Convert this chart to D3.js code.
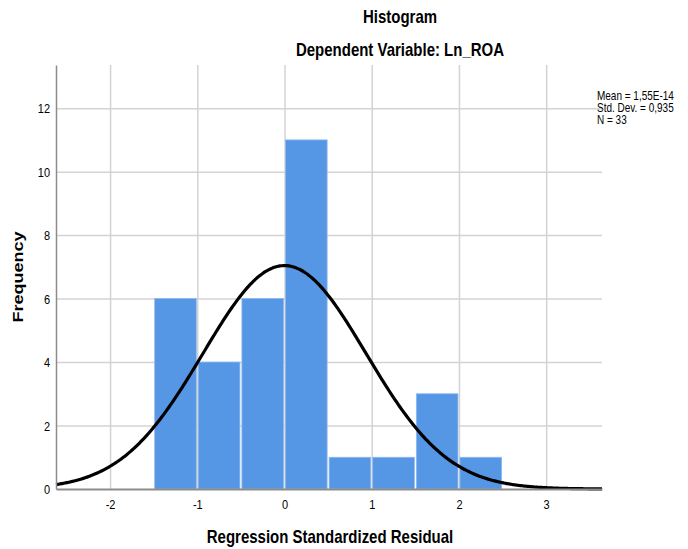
<!DOCTYPE html>
<html>
<head>
<meta charset="utf-8">
<script src="https://cdn.jsdelivr.net/npm/d3@7"></script>
<style>
  html, body { margin: 0; padding: 0; background: #fff; }
  svg { display: block; }
  text { font-family: "Liberation Sans", Arial, sans-serif; fill: #000; }
</style>
</head>
<body>
<svg id="chart" width="688" height="549"></svg>
<script>
// ---- data ----
const binStarts = [-1.5, -1.0, -0.5, 0.0, 0.5, 1.0, 1.5, 2.0];
const binCounts = [6, 4, 6, 11, 1, 1, 3, 1];
const binWidth = 0.5;
const xTicks = [-2, -1, 0, 1, 2, 3];
const yTicks = [0, 2, 4, 6, 8, 10, 12];
const statMean = 1.55e-14;
const statSD = 0.935;
const statN = 33;
const legendLines = ["Mean = 1,55E-14", "Std. Dev. = 0,935", "N = 33"];
const titleText = "Histogram";
const subtitleText = "Dependent Variable: Ln_ROA";
const xLabel = "Regression Standardized Residual";
const yLabel = "Frequency";

// ---- layout ----
const L = 56, R = 602, T = 65, B = 489;
const SY = 1.2; // vertical text stretch
const svg = d3.select("#chart");

const x = d3.scaleLinear().domain([-2.62, 3.64]).range([L, R]);
const y = d3.scaleLinear().domain([0, 13.36]).range([B, T]);

// gridlines
const grid = svg.append("g");
grid.append("g")
  .attr("transform", `translate(0,${B})`)
  .call(d3.axisBottom(x).tickValues(xTicks).tickSize(-(B - T)).tickFormat(""))
  .call(g => g.select(".domain").remove())
  .call(g => g.selectAll("line").attr("stroke", "#d3d3d3").attr("stroke-width", 1.5));
grid.append("g")
  .attr("transform", `translate(${L},0)`)
  .call(d3.axisLeft(y).tickValues(yTicks.filter(v => v > 0)).tickSize(-(R - L)).tickFormat(""))
  .call(g => g.select(".domain").remove())
  .call(g => g.selectAll("line").attr("stroke", "#d3d3d3").attr("stroke-width", 1.5));

// bars
const bars = binStarts.map((s, i) => ({ x0: s, x1: s + binWidth, n: binCounts[i] }));
svg.append("g").selectAll("rect").data(bars).join("rect")
  .attr("x", d => x(d.x0) + 1)
  .attr("width", d => x(d.x1) - x(d.x0) - 2)
  .attr("y", d => y(d.n))
  .attr("height", d => y(0) - y(d.n))
  .attr("fill", "#5596e5")
  .attr("stroke", "#8db8ef")
  .attr("stroke-width", 0.8);

// normal curve
const pdf = v => statN * binWidth / (statSD * Math.sqrt(2 * Math.PI)) *
  Math.exp(-0.5 * Math.pow((v - statMean) / statSD, 2));
const xs = d3.range(0, 301).map(i => x.domain()[0] + i * (x.domain()[1] - x.domain()[0]) / 300);
svg.append("path")
  .datum(xs)
  .attr("fill", "none")
  .attr("stroke", "#000")
  .attr("stroke-width", 3.2)
  .attr("d", d3.line().x(v => x(v)).y(v => y(pdf(v))).curve(d3.curveBasis));

// axes
const plainFmt = d => String(d);
svg.append("g")
  .attr("transform", `translate(0,${B})`)
  .call(d3.axisBottom(x).tickValues(xTicks).tickSize(0).tickFormat(plainFmt))
  .call(g => g.select(".domain").attr("stroke", "#8c8c8c").attr("stroke-width", 2))
  .call(g => g.selectAll("text")
    .attr("y", null).attr("dy", null)
    .attr("transform", `translate(0,19.5) scale(1,${SY})`)
    .attr("font-size", 11).attr("fill", "#222")
    .style("font-family", '"Liberation Sans", Arial, sans-serif'));
svg.append("g")
  .attr("transform", `translate(${L},0)`)
  .call(d3.axisLeft(y).tickValues(yTicks).tickSize(0).tickFormat(plainFmt))
  .call(g => g.select(".domain").attr("stroke", "#8c8c8c").attr("stroke-width", 1.5))
  .call(g => g.selectAll("text")
    .attr("x", null).attr("dy", null)
    .attr("transform", `translate(-6,4.7) scale(1,${SY})`)
    .attr("font-size", 11).attr("fill", "#222")
    .style("font-family", '"Liberation Sans", Arial, sans-serif'));

// text helper
function txt(str, tx, ty, opts = {}) {
  return svg.append("text")
    .attr("transform", `translate(${tx},${ty}) scale(1,${SY})` + (opts.rotate ? ` rotate(${opts.rotate})` : ""))
    .attr("text-anchor", opts.anchor || "middle")
    .attr("font-size", opts.size || 15)
    .attr("font-weight", opts.weight || "normal")
    .text(str);
}

txt(titleText, 400, 23, { size: 15, weight: "bold" });
txt(subtitleText, 400, 56, { size: 15, weight: "bold" });
txt(xLabel, 330, 543, { size: 15, weight: "bold" });
txt(yLabel, 23, 277, { size: 15, weight: "bold", rotate: -90 });

legendLines.forEach((s, i) => {
  txt(s, 597, 100 + i * 12, { size: 10, anchor: "start" });
});
</script>
</body>
</html>
